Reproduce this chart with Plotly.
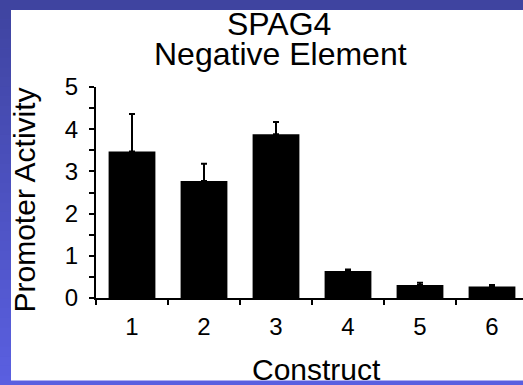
import plotly.graph_objects as go

# ---- data ----
constructs = [1, 2, 3, 4, 5, 6]
tick_labels = ["1", "2", "3", "4", "5", "6"]
activity = [3.47, 2.77, 3.88, 0.64, 0.31, 0.27]
err_plus = [0.89, 0.41, 0.29, 0.035, 0.05, 0.04]
y_ticks = [0, 1, 2, 3, 4, 5]

W, H = 523, 385
ML, MR, MT, MB = 96, 0, 87, 87
PW, PH = W - ML - MR, H - MT - MB
CAT_PX = 72.0

def fx(px):
    return (px - ML) / PW

def fy(py):
    return (H - MB - py) / PH

FONT = "Liberation Sans, Arial, Helvetica, sans-serif"

fig = go.Figure()
fig.add_trace(go.Bar(
    x=constructs, y=activity, width=0.65,
    marker=dict(color="black", line=dict(width=0)),
    error_y=dict(type="data", symmetric=False, array=err_plus,
                 arrayminus=[0] * len(err_plus),
                 color="black", thickness=2, width=3),
    showlegend=False,
))

# background: slide gradient + white panel
shapes = []
top = (63, 68, 160)
bot = (90, 95, 224)
N = 40
for i in range(N):
    t = i / (N - 1)
    c = tuple(round(top[k] + (bot[k] - top[k]) * t) for k in range(3))
    y0 = i * H / N
    y1 = (i + 1) * H / N + 0.5
    shapes.append(dict(type="rect", xref="paper", yref="paper", layer="below",
                       x0=fx(-2), x1=fx(W + 2), y0=fy(y1), y1=fy(y0),
                       fillcolor="rgb(%d,%d,%d)" % c, line=dict(width=0)))
shapes.append(dict(type="rect", xref="paper", yref="paper", layer="below",
                   x0=fx(11), x1=fx(W + 2), y0=fy(380.5), y1=fy(10),
                   fillcolor="white", line=dict(width=0)))

annotations = [
    dict(text="SPAG4", xref="paper", yref="paper", x=fx(278.5), y=fy(24),
         xanchor="center", yanchor="middle", showarrow=False,
         font=dict(family=FONT, size=32, color="black")),
    dict(text="Negative Element", xref="paper", yref="paper", x=fx(280.5), y=fy(54),
         xanchor="center", yanchor="middle", showarrow=False,
         font=dict(family=FONT, size=32, color="black")),
    dict(text="Promoter Activity", xref="paper", yref="paper", x=fx(24), y=fy(200.5),
         xanchor="center", yanchor="middle", showarrow=False, textangle=-90,
         font=dict(family=FONT, size=30, color="black")),
    dict(text="Construct", xref="paper", yref="paper", x=fx(316.7), y=fy(369),
         xanchor="center", yanchor="middle", showarrow=False,
         font=dict(family=FONT, size=30, color="black")),
]

fig.update_layout(
    width=W, height=H,
    margin=dict(l=ML, r=MR, t=MT, b=MB, pad=0),
    paper_bgcolor="rgb(80,82,196)",
    plot_bgcolor="rgba(0,0,0,0)",
    font=dict(family=FONT, color="black"),
    shapes=shapes,
    annotations=annotations,
    bargap=0.35,
)
fig.update_xaxes(
    range=[0.5, 0.5 + PW / CAT_PX],
    tickmode="array", tickvals=constructs, ticktext=tick_labels,
    ticks="", showgrid=False, zeroline=False,
    showline=True, linecolor="black", linewidth=2,
    tickfont=dict(family=FONT, size=24, color="black"),
    ticklabelstandoff=6,
    minor=dict(tickmode="linear", tick0=0.5, dtick=1, ticks="outside",
               ticklen=5, tickwidth=2, tickcolor="black", showgrid=False),
    fixedrange=True,
)
fig.update_yaxes(
    range=[0, 5],
    tickmode="array", tickvals=y_ticks,
    ticks="outside", ticklen=5, tickwidth=2, tickcolor="black",
    showgrid=False, zeroline=False,
    showline=True, linecolor="black", linewidth=2,
    tickfont=dict(family=FONT, size=24, color="black"),
    ticklabelstandoff=6,
    minor=dict(tickmode="linear", tick0=0, dtick=0.5, ticks="outside",
               ticklen=5, tickwidth=2, tickcolor="black", showgrid=False),
    fixedrange=True,
)

fig.write_html("out.html", config={"displayModeBar": False})
